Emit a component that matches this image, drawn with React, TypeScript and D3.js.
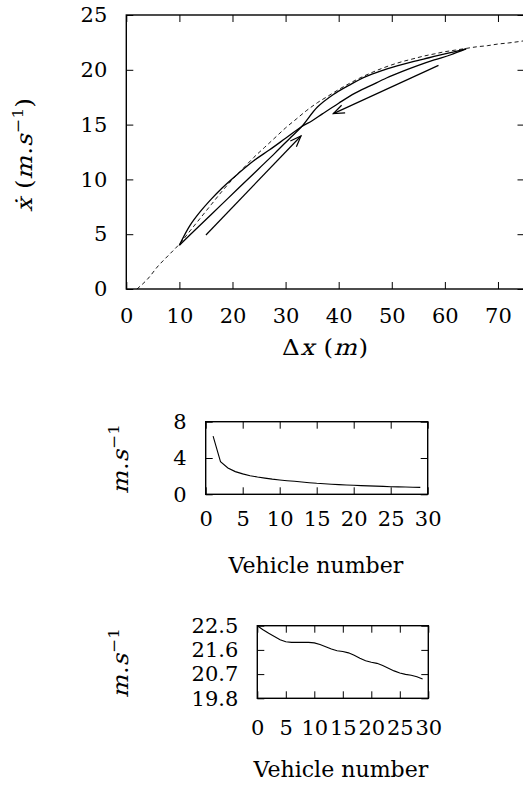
import React, { useEffect, useRef } from 'react';
import * as d3 from 'd3';

// Curva de velocidad optima (punteada)
const ovGap = [2, 4, 6, 8, 10, 12, 14, 16, 18, 20, 22, 24, 26, 28, 30, 32, 34, 36, 38, 40, 42, 44, 46, 48, 50, 52, 54, 56, 58, 60, 62, 64, 66, 68, 70, 72, 75];
const ovSpeed = [0, 0.9, 2.1, 3.1, 4.1, 5.3, 6.5, 7.7, 8.9, 10.0, 11.0, 12.0, 12.9, 13.8, 14.7, 15.5, 16.3, 17.0, 17.6, 18.2, 18.75, 19.25, 19.7, 20.1, 20.45, 20.75, 21.0, 21.25, 21.45, 21.65, 21.8, 21.95, 22.1, 22.2, 22.35, 22.45, 22.65];

// Ciclo de histeresis: rama de aceleracion y de frenado
const accelGap = [10, 13, 16, 19, 22, 25, 28, 31, 33, 36, 39, 42, 45, 48, 51, 54, 57, 60, 64];
const accelSpeed = [4.0, 5.4, 6.8, 8.2, 9.6, 11.0, 12.4, 13.85, 14.8, 16.6, 17.75, 18.6, 19.35, 19.9, 20.35, 20.75, 21.1, 21.45, 21.9];
const decelGap = [64, 61, 58, 55, 52, 49, 46, 43, 40, 37, 35, 33, 30, 27, 24, 21, 18, 16, 14, 12, 10];
const decelSpeed = [21.9, 21.35, 20.9, 20.4, 19.85, 19.25, 18.55, 17.85, 16.95, 16.0, 15.35, 14.8, 13.75, 12.7, 11.7, 10.5, 9.2, 8.2, 7.1, 5.8, 4.0];

// Flechas (inicio, punta)
const arrowUpGap = [15, 32.9];
const arrowUpSpeed = [4.93, 13.96];
const arrowDownGap = [58.8, 39.0];
const arrowDownSpeed = [20.4, 16.0];

const mainXTicks = [0, 10, 20, 30, 40, 50, 60, 70];
const mainYTicks = [0, 5, 10, 15, 20, 25];

// Grafico 1: amplitud por vehiculo
const vehicles1 = [1, 2, 3, 4, 5, 6, 7, 8, 9, 10, 11, 12, 13, 14, 15, 16, 17, 18, 19, 20, 21, 22, 23, 24, 25, 26, 27, 28, 29];
const amplitude = [6.4, 3.6, 2.9, 2.5, 2.25, 2.05, 1.9, 1.78, 1.67, 1.58, 1.5, 1.43, 1.36, 1.28, 1.21, 1.16, 1.11, 1.07, 1.03, 0.99, 0.96, 0.93, 0.9, 0.87, 0.84, 0.82, 0.8, 0.78, 0.76];
const ticks1X = [0, 5, 10, 15, 20, 25, 30];
const ticks1Y = [0, 4, 8];

// Grafico 2: velocidad por vehiculo
const vehicles2 = [0, 1, 2, 3, 4, 5, 6, 7, 8, 9, 10, 11, 12, 13, 14, 15, 16, 17, 18, 19, 20, 21, 22, 23, 24, 25, 26, 27, 28, 29];
const speed2 = [22.5, 22.35, 22.22, 22.1, 21.98, 21.9, 21.88, 21.88, 21.88, 21.88, 21.86, 21.8, 21.72, 21.63, 21.57, 21.54, 21.49, 21.4, 21.29, 21.2, 21.14, 21.1, 21.02, 20.92, 20.82, 20.74, 20.69, 20.66, 20.6, 20.52];
const ticks2X = [0, 5, 10, 15, 20, 25, 30];
const ticks2Y = [19.8, 20.7, 21.6, 22.5];

const FONT = '"DejaVu Serif", serif';

type Part = { t: string; i?: boolean; sup?: boolean };

const App: React.FC = () => {
    const ref = useRef<SVGSVGElement>(null);

    useEffect(() => {
        const svg = d3.select(ref.current);
        svg.selectAll('*').remove();

        // marcador de flecha abierta
        svg.append('defs')
            .append('marker')
            .attr('id', 'openArrow')
            .attr('markerUnits', 'userSpaceOnUse')
            .attr('viewBox', '-12 -6 14 12')
            .attr('refX', 0)
            .attr('refY', 0)
            .attr('markerWidth', 14)
            .attr('markerHeight', 12)
            .attr('orient', 'auto')
            .append('path')
            .attr('d', 'M-11,-4.2L0,0L-11,4.2')
            .attr('fill', 'none')
            .attr('stroke', '#000')
            .attr('stroke-width', 1.2);

        const frame = (
            x: d3.ScaleLinear<number, number>,
            y: d3.ScaleLinear<number, number>,
            xTicks: number[],
            yTicks: number[],
            size: number,
            padX: number,
            padY: number,
            fmt: (d: d3.NumberValue) => string
        ) => {
            const [x0, x1] = x.range();
            const [y0, y1] = y.range();
            const style = (g: d3.Selection<SVGGElement, unknown, null, undefined>) => {
                g.select('.domain').remove();
                g.attr('font-family', null).attr('font-size', null);
                g.style('font-family', FONT).style('font-size', `${size}px`);
                g.selectAll('line').attr('stroke-width', 1);
            };
            svg.append('g')
                .attr('transform', `translate(0,${y0})`)
                .call(d3.axisBottom(x).tickValues(xTicks).tickSize(-7).tickPadding(padX).tickFormat(fmt))
                .call(style);
            svg.append('g')
                .attr('transform', `translate(0,${y1})`)
                .call(d3.axisTop(x).tickValues(xTicks).tickSize(-7).tickFormat(() => ''))
                .call(style);
            svg.append('g')
                .attr('transform', `translate(${x0},0)`)
                .call(d3.axisLeft(y).tickValues(yTicks).tickSize(-7).tickPadding(padY).tickFormat(fmt))
                .call(style);
            svg.append('g')
                .attr('transform', `translate(${x1},0)`)
                .call(d3.axisRight(y).tickValues(yTicks).tickSize(-7).tickFormat(() => ''))
                .call(style);
            svg.append('rect')
                .attr('x', x0)
                .attr('y', y1)
                .attr('width', x1 - x0)
                .attr('height', y0 - y1)
                .attr('fill', 'none')
                .attr('stroke', '#000')
                .attr('stroke-width', 1.4);
        };

        // etiqueta por piezas; la cursiva se hace con skewX (no hay DejaVu Serif Italic)
        const label = (tx: number, ty: number, rot: number, parts: Part[], size: number, len: number) => {
            const outer = svg.append('g').attr('transform', `translate(${tx},${ty}) rotate(${rot})`);
            const inner = outer.append('g');
            const pieces = parts.map((p) => {
                const fs = p.sup ? size * 0.7 : size;
                const t = inner.append('text')
                    .text(p.t)
                    .style('white-space', 'pre')
                    .style('font-family', FONT)
                    .style('font-size', `${fs}px`);
                const w = (t.node() as SVGTextElement).getComputedTextLength() + (p.i ? size * 0.05 : 0);
                return { t, w, p };
            });
            const natural = d3.sum(pieces, (d) => d.w);
            const sx = pieces.length === 1 ? len / natural : Math.min(1.12, len / natural);
            const gap = pieces.length > 1 ? (len - natural * sx) / (pieces.length - 1) / sx : 0;
            let cursor = 0;
            pieces.forEach(({ t, w, p }) => {
                const yOff = p.sup ? -size * 0.42 : 0;
                t.attr('transform', `translate(${cursor},${yOff})${p.i ? ' skewX(-14)' : ''}`);
                cursor += w + gap;
            });
            const total = cursor - gap;
            inner.attr('transform', `scale(${sx},1) translate(${-total / 2},0)`);
        };

        const line = (x: d3.ScaleLinear<number, number>, y: d3.ScaleLinear<number, number>, xs: number[], ys: number[], curve: d3.CurveFactory) =>
            d3.line<number>().x((d) => x(xs[d])).y((d) => y(ys[d])).curve(curve)(xs.map((_, i) => i));

        // ---------- grafico principal ----------
        const xMain = d3.scaleLinear().domain([0, 75]).range([126.3, 524.5]);
        const yMain = d3.scaleLinear().domain([0, 25]).range([289, 15]);

        svg.append('path')
            .attr('d', line(xMain, yMain, ovGap, ovSpeed, d3.curveMonotoneX))
            .attr('fill', 'none')
            .attr('stroke', '#000')
            .attr('stroke-width', 0.9)
            .attr('stroke-dasharray', '4,3');

        [[accelGap, accelSpeed], [decelGap, decelSpeed]].forEach(([xs, ys]) => {
            svg.append('path')
                .attr('d', line(xMain, yMain, xs, ys, d3.curveCatmullRom))
                .attr('fill', 'none')
                .attr('stroke', '#000')
                .attr('stroke-width', 1.3);
        });

        [[arrowUpGap, arrowUpSpeed], [arrowDownGap, arrowDownSpeed]].forEach(([xs, ys]) => {
            svg.append('path')
                .attr('d', line(xMain, yMain, xs, ys, d3.curveLinear))
                .attr('fill', 'none')
                .attr('stroke', '#000')
                .attr('stroke-width', 1.2)
                .attr('marker-end', 'url(#openArrow)');
        });

        frame(xMain, yMain, mainXTicks, mainYTicks, 21, 19, 19, d3.format('d'));

        label(32, 155, -90, [
            { t: '\u1E8B', i: true }, { t: ' (' }, { t: 'm', i: true }, { t: '.' }, { t: 's', i: true },
            { t: '\u22121', sup: true }, { t: ')' },
        ], 22, 114);
        label(325, 355, 0, [{ t: '\u0394' }, { t: 'x', i: true }, { t: ' (' }, { t: 'm', i: true }, { t: ')' }], 22, 86);

        // ---------- grafico 1 ----------
        const x1 = d3.scaleLinear().domain([0, 30]).range([205.7, 427.7]);
        const y1 = d3.scaleLinear().domain([0, 8]).range([494.3, 421.7]);
        svg.append('path')
            .attr('d', line(x1, y1, vehicles1, amplitude, d3.curveLinear))
            .attr('fill', 'none')
            .attr('stroke', '#000')
            .attr('stroke-width', 1.1);
        frame(x1, y1, ticks1X, ticks1Y, 21, 17, 19, d3.format('d'));
        label(128, 459, -90, [{ t: 'm', i: true }, { t: '.' }, { t: 's', i: true }, { t: '\u22121', sup: true }], 22, 70);
        label(316, 573, 0, [{ t: 'Vehicle number' }], 23, 175);

        // ---------- grafico 2 ----------
        const x2 = d3.scaleLinear().domain([0, 30]).range([257.3, 428.3]);
        const y2 = d3.scaleLinear().domain([19.8, 22.5]).range([698.3, 625.7]);
        svg.append('path')
            .attr('d', line(x2, y2, vehicles2, speed2, d3.curveLinear))
            .attr('fill', 'none')
            .attr('stroke', '#000')
            .attr('stroke-width', 1.1);
        frame(x2, y2, ticks2X, ticks2Y, 21, 22, 19, (d) => {
            const v = +d;
            return ticks2Y.includes(v) ? v.toFixed(1) : String(v);
        });
        label(128, 663, -90, [{ t: 'm', i: true }, { t: '.' }, { t: 's', i: true }, { t: '\u22121', sup: true }], 22, 70);
        label(341, 777, 0, [{ t: 'Vehicle number' }], 23, 175);
    }, []);

    return (
        <svg
            ref={ref}
            width={523}
            height={785}
            style={{ position: 'absolute', left: 0, top: 0, background: '#fff' }}
        />
    );
};

export default App;
